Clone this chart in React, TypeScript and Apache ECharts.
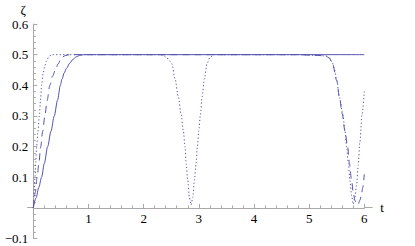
import React, { useEffect, useRef } from 'react';
import * as echarts from 'echarts';

// ---- data ----
const solidT = [0, 0.05, 0.1, 0.15, 0.2, 0.26, 0.32, 0.38, 0.44, 0.49, 0.52, 0.56, 0.6, 0.66, 0.72, 0.78, 0.85, 0.92, 1.0, 6.0];
const solidZ = [0, 0.033, 0.067, 0.1, 0.145, 0.2, 0.25, 0.3, 0.352, 0.4, 0.42, 0.44, 0.455, 0.472, 0.485, 0.493, 0.498, 0.5, 0.5, 0.5];

const dashedT = [0, 0.035, 0.07, 0.1, 0.135, 0.17, 0.21, 0.25, 0.3, 0.35, 0.4, 0.45, 0.51, 0.58, 0.66, 1, 2, 3, 4, 4.8, 5.1, 5.3, 5.36, 5.42, 5.5, 5.55, 5.6, 5.65, 5.7, 5.73, 5.77, 5.8, 5.83, 5.86, 5.89, 5.92, 5.95, 5.97, 6.0];
const dashedZ = [0, 0.05, 0.1, 0.145, 0.2, 0.25, 0.3, 0.35, 0.4, 0.43, 0.45, 0.47, 0.49, 0.497, 0.5, 0.5, 0.5, 0.5, 0.5, 0.5, 0.498, 0.496, 0.49, 0.475, 0.416, 0.36, 0.307, 0.25, 0.198, 0.145, 0.089, 0.05, 0.025, 0.012, 0.012, 0.025, 0.045, 0.065, 0.11];

const dottedT = [0, 0.015, 0.03, 0.045, 0.06, 0.085, 0.11, 0.13, 0.15, 0.18, 0.21, 0.24, 0.28, 0.33, 1, 2, 2.3, 2.36, 2.42, 2.47, 2.51, 2.57, 2.63, 2.68, 2.72, 2.75, 2.77, 2.8, 2.83, 2.86, 2.89, 2.92, 2.95, 2.975, 3.0, 3.03, 3.06, 3.1, 3.15, 3.2, 3.27, 4, 4.8, 5.1, 5.3, 5.36, 5.42, 5.46, 5.5, 5.55, 5.61, 5.65, 5.68, 5.71, 5.74, 5.77, 5.8, 5.83, 5.86, 5.89, 5.92, 5.96, 6.0];
const dottedZ = [0, 0.05, 0.1, 0.15, 0.2, 0.25, 0.3, 0.35, 0.4, 0.44, 0.465, 0.48, 0.493, 0.5, 0.5, 0.5, 0.5, 0.497, 0.49, 0.48, 0.471, 0.42, 0.362, 0.305, 0.252, 0.2, 0.144, 0.09, 0.034, 0.01, 0.034, 0.09, 0.144, 0.2, 0.252, 0.305, 0.362, 0.42, 0.471, 0.49, 0.5, 0.5, 0.5, 0.498, 0.496, 0.49, 0.475, 0.45, 0.416, 0.36, 0.307, 0.25, 0.198, 0.145, 0.089, 0.04, 0.012, 0.035, 0.075, 0.14, 0.215, 0.307, 0.38];

const xRange = [0, 6];
const yRange = [-0.1, 0.6];
const xTickLabels = [1, 2, 3, 4, 5, 6];

const pairs = (t: number[], z: number[]) => t.map((v, i) => [v, z[i]]);

export default function App() {
  const ref = useRef<HTMLDivElement>(null);
  useEffect(() => {
    document.body.style.margin = '0';
    const chart = echarts.init(ref.current!, null, { renderer: 'svg' });
    const axisColor = '#a8a8a8';
    const lineColor = '#5252ac';
    const font = 'Liberation Serif';
    chart.setOption({
      animation: false,
      textStyle: { fontFamily: font },
      grid: { left: 33.3, right: 50.7, top: 24, bottom: 7.4, outerBoundsMode: 'none', containLabel: false },
      xAxis: {
        type: 'value', min: xRange[0], max: xRange[1], interval: 1,
        name: 't', nameLocation: 'end', nameGap: 16,
        nameTextStyle: { fontFamily: font, fontSize: 13, color: '#000' },
        axisLine: { onZero: true, lineStyle: { color: axisColor, width: 1 } },
        axisTick: { inside: true, length: 4, lineStyle: { color: axisColor } },
        minorTick: { show: true, splitNumber: 5, length: 2.5, lineStyle: { color: axisColor } },
        axisLabel: { show: false },
        splitLine: { show: false },
      },
      yAxis: {
        type: 'value', min: yRange[0], max: yRange[1], interval: 0.1,
        axisLine: { onZero: true, lineStyle: { color: axisColor, width: 1 } },
        axisTick: { inside: true, length: 4, lineStyle: { color: axisColor } },
        minorTick: { show: true, splitNumber: 5, length: 2.5, lineStyle: { color: axisColor } },
        axisLabel: {
          margin: 5, color: '#000', fontFamily: font, fontSize: 13,
          formatter: (v: number) => (Math.abs(v) < 1e-9 ? '' : v.toFixed(1).replace('-', '\u2212')),
        },
        splitLine: { show: false },
      },
      series: [
        {
          type: 'line', data: pairs(dottedT, dottedZ), showSymbol: false, smooth: 0.3, smoothMonotone: 'x',
          lineStyle: { color: lineColor, width: 1, type: [1.2, 2.3] },
        },
        {
          type: 'line', data: pairs(dashedT, dashedZ), showSymbol: false, smooth: 0.3, smoothMonotone: 'x',
          lineStyle: { color: lineColor, width: 1, type: [7, 5] },
        },
        {
          type: 'line', data: pairs(solidT, solidZ), showSymbol: false, smooth: 0.3, smoothMonotone: 'x',
          lineStyle: { color: lineColor, width: 1 },
        },
      ],
    });
    const px = (p: number[]) => chart.convertToPixel({ gridIndex: 0 }, p) as number[];
    const a = px([-0.11, 0]);
    const b = px([0, 0]);
    const c = px([6, 0]);
    const d = px([6.15, 0]);
    const top = px([0, 0.6]);
    const yLine = Math.round(b[1] - 0.5) + 0.5;
    const labels = xTickLabels.map((v) => {
      const p = px([v, 0]);
      return {
        type: 'text', x: p[0], y: p[1] + 11,
        style: { text: String(v), font: '13px "Liberation Serif", serif', fill: '#000', align: 'center', verticalAlign: 'middle' },
      };
    });
    chart.setOption({
      graphic: [
        { type: 'line', shape: { x1: a[0], y1: yLine, x2: b[0], y2: yLine }, style: { stroke: axisColor, lineWidth: 1 } },
        { type: 'line', shape: { x1: c[0], y1: yLine, x2: d[0], y2: yLine }, style: { stroke: axisColor, lineWidth: 1 } },
        ...labels,
        {
          type: 'text', x: b[0] - 10, y: top[1] - 15,
          style: { text: '\u03b6', font: '13px "Liberation Serif", serif', fill: '#000', align: 'center', verticalAlign: 'middle' },
        },
      ],
    });
    return () => chart.dispose();
  }, []);
  return <div ref={ref} style={{ width: 415, height: 246 }} />;
}
